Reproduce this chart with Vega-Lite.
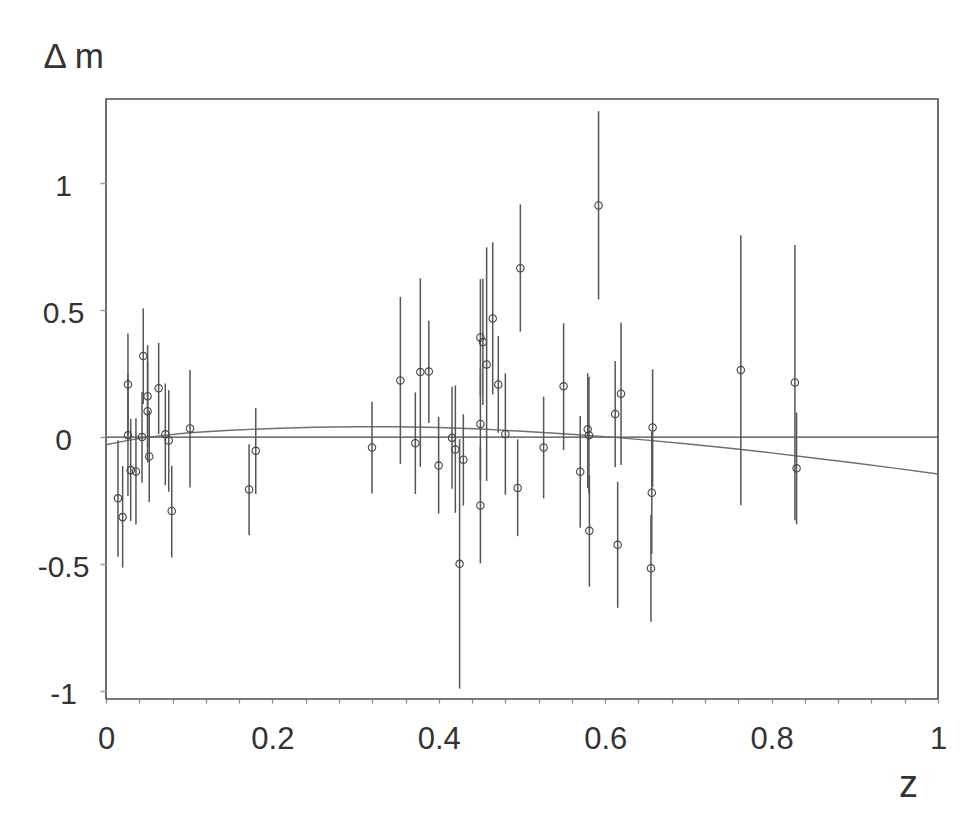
{
  "$schema": "https://vega.github.io/schema/vega-lite/v6.json",
  "autosize": "none",
  "width": 832,
  "height": 600,
  "padding": {"left": 106, "top": 99, "right": 39, "bottom": 129},
  "background": "white",
  "datasets": {
    "zero": [
      {"z": 0, "dm": 0},
      {"z": 1, "dm": 0}
    ],
    "sn": [
      {"z": 0.0144, "dm": -0.241, "lo": -0.471, "hi": -0.012},
      {"z": 0.020, "dm": -0.315, "lo": -0.514, "hi": -0.114},
      {"z": 0.0264, "dm": 0.207, "lo": 0.006, "hi": 0.408},
      {"z": 0.0264, "dm": 0.007, "lo": -0.232, "hi": 0.246},
      {"z": 0.0297, "dm": -0.13, "lo": -0.33, "hi": 0.071},
      {"z": 0.036, "dm": -0.135, "lo": -0.344, "hi": 0.074},
      {"z": 0.0433, "dm": 0.0, "lo": -0.18, "hi": 0.178},
      {"z": 0.0448, "dm": 0.319, "lo": 0.13, "hi": 0.507},
      {"z": 0.050, "dm": 0.161, "lo": -0.04, "hi": 0.362},
      {"z": 0.050, "dm": 0.102, "lo": -0.1, "hi": 0.3},
      {"z": 0.052, "dm": -0.076, "lo": -0.256, "hi": 0.104},
      {"z": 0.0633, "dm": 0.192, "lo": 0.012, "hi": 0.371},
      {"z": 0.0713, "dm": 0.011, "lo": -0.189, "hi": 0.211},
      {"z": 0.0754, "dm": -0.013, "lo": -0.215, "hi": 0.185},
      {"z": 0.079, "dm": -0.291, "lo": -0.474, "hi": -0.113},
      {"z": 0.101, "dm": 0.034, "lo": -0.198, "hi": 0.264},
      {"z": 0.172, "dm": -0.206, "lo": -0.386, "hi": -0.028},
      {"z": 0.18, "dm": -0.054, "lo": -0.224, "hi": 0.115},
      {"z": 0.3197, "dm": -0.041, "lo": -0.222, "hi": 0.139},
      {"z": 0.3538, "dm": 0.223, "lo": -0.106, "hi": 0.552},
      {"z": 0.3718, "dm": -0.024, "lo": -0.224, "hi": 0.176},
      {"z": 0.3778, "dm": 0.256, "lo": -0.117, "hi": 0.625},
      {"z": 0.388, "dm": 0.258, "lo": 0.056, "hi": 0.458},
      {"z": 0.3998, "dm": -0.112, "lo": -0.302, "hi": 0.08},
      {"z": 0.4159, "dm": -0.003, "lo": -0.203, "hi": 0.198},
      {"z": 0.4199, "dm": -0.049, "lo": -0.298, "hi": 0.203},
      {"z": 0.425, "dm": -0.499, "lo": -0.99, "hi": -0.008},
      {"z": 0.4295, "dm": -0.089, "lo": -0.27, "hi": 0.09},
      {"z": 0.45, "dm": 0.392, "lo": 0.16, "hi": 0.622},
      {"z": 0.45, "dm": 0.052, "lo": -0.17, "hi": 0.27},
      {"z": 0.45, "dm": -0.269, "lo": -0.497, "hi": -0.038},
      {"z": 0.453, "dm": 0.374, "lo": 0.126, "hi": 0.623},
      {"z": 0.4575, "dm": 0.286, "lo": -0.173, "hi": 0.747},
      {"z": 0.4648, "dm": 0.467, "lo": 0.168, "hi": 0.767},
      {"z": 0.4715, "dm": 0.207, "lo": 0.017, "hi": 0.398},
      {"z": 0.48, "dm": 0.012, "lo": -0.227, "hi": 0.251},
      {"z": 0.4948, "dm": -0.2, "lo": -0.39, "hi": -0.009},
      {"z": 0.498, "dm": 0.665, "lo": 0.415, "hi": 0.916},
      {"z": 0.526, "dm": -0.041, "lo": -0.241, "hi": 0.159},
      {"z": 0.55, "dm": 0.2, "lo": -0.051, "hi": 0.448},
      {"z": 0.57, "dm": -0.136, "lo": -0.357, "hi": 0.083},
      {"z": 0.579, "dm": 0.031, "lo": -0.2, "hi": 0.251},
      {"z": 0.5805, "dm": 0.007, "lo": -0.222, "hi": 0.237},
      {"z": 0.581, "dm": -0.369, "lo": -0.589, "hi": -0.15},
      {"z": 0.592, "dm": 0.912, "lo": 0.542, "hi": 1.283},
      {"z": 0.612, "dm": 0.091, "lo": -0.119, "hi": 0.3},
      {"z": 0.615, "dm": -0.424, "lo": -0.672, "hi": -0.176},
      {"z": 0.619, "dm": 0.171, "lo": -0.11, "hi": 0.45},
      {"z": 0.657, "dm": 0.038, "lo": -0.196, "hi": 0.267},
      {"z": 0.656, "dm": -0.219, "lo": -0.46, "hi": 0.02},
      {"z": 0.655, "dm": -0.516, "lo": -0.727, "hi": -0.307},
      {"z": 0.763, "dm": 0.264, "lo": -0.268, "hi": 0.795},
      {"z": 0.828, "dm": 0.215, "lo": -0.327, "hi": 0.756},
      {"z": 0.83, "dm": -0.123, "lo": -0.343, "hi": 0.097}
    ],
    "fit": [
      {"z": 0.0, "dm": -0.03},
      {"z": 0.025, "dm": -0.014},
      {"z": 0.05, "dm": 0.0},
      {"z": 0.1, "dm": 0.017},
      {"z": 0.15, "dm": 0.027},
      {"z": 0.2, "dm": 0.034},
      {"z": 0.25, "dm": 0.039},
      {"z": 0.3, "dm": 0.041},
      {"z": 0.35, "dm": 0.041},
      {"z": 0.4, "dm": 0.038},
      {"z": 0.45, "dm": 0.032},
      {"z": 0.5, "dm": 0.023},
      {"z": 0.55, "dm": 0.013},
      {"z": 0.6, "dm": 0.002},
      {"z": 0.65, "dm": -0.012},
      {"z": 0.7, "dm": -0.027},
      {"z": 0.75, "dm": -0.044},
      {"z": 0.8, "dm": -0.062},
      {"z": 0.85, "dm": -0.082},
      {"z": 0.9, "dm": -0.102},
      {"z": 0.95, "dm": -0.123},
      {"z": 1.0, "dm": -0.145}
    ]
  },
  "encoding": {
    "x": {
      "field": "z", "type": "quantitative",
      "scale": {"domain": [0, 1], "nice": false, "zero": false},
      "axis": {
        "values": [0, 0.04, 0.08, 0.12, 0.16, 0.2, 0.24, 0.28, 0.32, 0.36, 0.4, 0.44, 0.48, 0.52, 0.56, 0.6, 0.64, 0.68, 0.72, 0.76, 0.8, 0.84, 0.88, 0.92, 0.96, 1],
        "labelExpr": "indexof(['0','0.2','0.4','0.6','0.8','1'], '' + datum.value) >= 0 ? '' + datum.value : ''",
        "labelOverlap": false,
        "labelFlush": false,
        "tickSize": 4,
        "tickColor": "#888888",
        "tickWidth": 1.2,
        "labelPadding": 21,
        "labelBaseline": "top",
        "labelFontSize": 31,
        "title": "z",
        "titleX": 802,
        "titleY": 97,
        "titleAlign": "center",
        "titleBaseline": "alphabetic",
        "titleFontSize": 38
      }
    },
    "y": {
      "field": "dm", "type": "quantitative",
      "scale": {"domain": [-1.031, 1.331], "nice": false, "zero": false},
      "axis": {
        "values": [-1, -0.5, 0, 0.5, 1],
        "labelExpr": "'' + datum.value",
        "labelOverlap": false,
        "labelFlush": false,
        "tickSize": 6,
        "tickColor": "#999999",
        "tickWidth": 1.5,
        "labelAlign": "center",
        "labelBaseline": "middle",
        "labelPadding": 37,
        "labelOffset": 3,
        "labelFontSize": 30,
        "title": "Δ m",
        "titleAngle": 0,
        "titleX": -63,
        "titleY": -32,
        "titleAlign": "left",
        "titleBaseline": "alphabetic",
        "titleFontSize": 35
      }
    }
  },
  "layer": [
    {
      "data": {"name": "zero"},
      "mark": {"type": "line", "color": "#444444", "strokeWidth": 1.4}
    },
    {
      "data": {"name": "fit"},
      "mark": {"type": "line", "color": "#7a6a6a", "strokeWidth": 1.4}
    },
    {
      "data": {"name": "sn"},
      "mark": {"type": "rule", "color": "#555555", "strokeWidth": 1.5},
      "encoding": {
        "y": {
          "field": "lo", "type": "quantitative",
          "axis": {
            "values": [-1, -0.5, 0, 0.5, 1],
            "labelExpr": "'' + datum.value",
            "labelOverlap": false,
            "labelFlush": false,
            "tickSize": 6,
            "tickColor": "#999999",
            "tickWidth": 1.5,
            "labelAlign": "center",
            "labelBaseline": "middle",
            "labelPadding": 37,
            "labelOffset": 3,
            "labelFontSize": 30,
            "title": "Δ m",
            "titleAngle": 0,
            "titleX": -63,
            "titleY": -32,
            "titleAlign": "left",
            "titleBaseline": "alphabetic",
            "titleFontSize": 35
          }
        },
        "y2": {"field": "hi"}
      }
    },
    {
      "data": {"name": "sn"},
      "mark": {"type": "point", "shape": "circle", "filled": false, "size": 55, "stroke": "#444444", "strokeWidth": 1.1, "opacity": 1}
    }
  ],
  "config": {
    "view": {"stroke": "#4d4d4d", "strokeWidth": 1.6},
    "axis": {
      "domain": false,
      "grid": false,
      "labelFont": "Liberation Sans",
      "labelColor": "#333333",
      "titleFont": "Liberation Sans",
      "titleColor": "#333333",
      "titleFontWeight": "normal"
    }
  }
}
